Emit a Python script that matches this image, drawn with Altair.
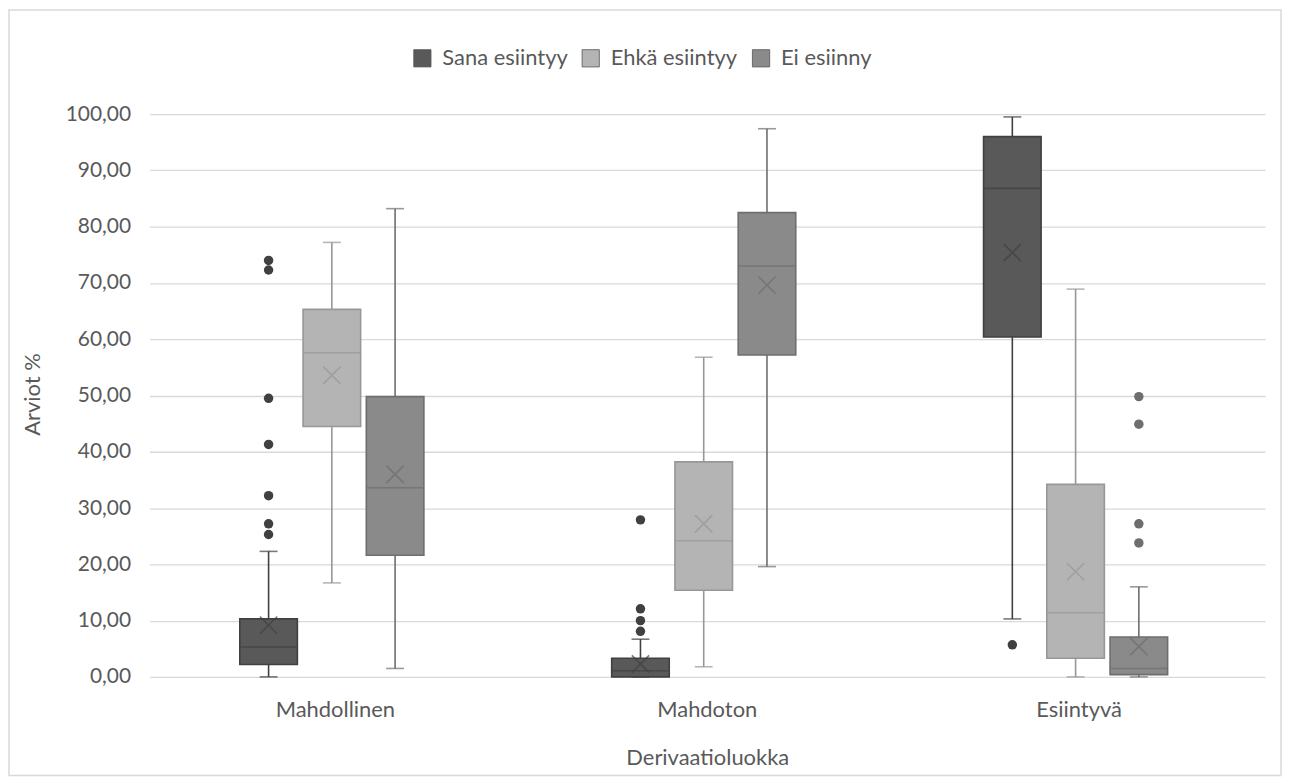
import altair as alt
import pandas as pd

categories = ["Mahdollinen", "Mahdoton", "Esiintyvä"]
series = ["Sana esiintyy", "Ehkä esiintyy", "Ei esiinny"]

# values per series, in the order of categories
whisker_low = {"Sana esiintyy": [0.0, 0.0, 10.3], "Ehkä esiintyy": [16.7, 1.8, 0.0], "Ei esiinny": [1.5, 19.6, 0.0]}
q1 = {"Sana esiintyy": [2.2, 0.0, 60.4], "Ehkä esiintyy": [44.5, 15.4, 3.3], "Ei esiinny": [21.6, 57.2, 0.4]}
median = {"Sana esiintyy": [5.3, 1.1, 86.8], "Ehkä esiintyy": [57.6, 24.2, 11.4], "Ei esiinny": [33.6, 73.0, 1.5]}
q3 = {"Sana esiintyy": [10.3, 3.3, 96.0], "Ehkä esiintyy": [65.3, 38.2, 34.2], "Ei esiinny": [49.8, 82.5, 7.1]}
whisker_high = {"Sana esiintyy": [22.3, 6.7, 99.5], "Ehkä esiintyy": [77.2, 56.8, 68.9], "Ei esiinny": [83.2, 97.4, 16.0]}
mean = {"Sana esiintyy": [9.2, 2.3, 75.4], "Ehkä esiintyy": [53.6, 27.2, 18.7], "Ei esiinny": [36.0, 69.6, 5.4]}

outlier_category = ["Mahdollinen"] * 7 + ["Mahdoton"] * 4 + ["Esiintyvä"] * 5
outlier_series = ["Sana esiintyy"] * 12 + ["Ei esiinny"] * 4
outlier_value = [74.0, 72.3, 49.5, 41.3, 32.2, 27.2, 25.3,
                 27.9, 12.1, 10.0, 8.1,
                 5.7,
                 49.8, 44.9, 27.2, 23.8]

fill_colors = ["#595959", "#b4b4b4", "#8a8a8a"]
line_colors = ["#404040", "#979797", "#6e6e6e"]
text_color = "#595959"
font = "Lato"

rows = []
for s in series:
    for i, c in enumerate(categories):
        rows.append({"cat": c, "ser": s, "serfill": s, "lo": whisker_low[s][i], "q1": q1[s][i],
                     "med": median[s][i], "q3": q3[s][i], "hi": whisker_high[s][i],
                     "mean": mean[s][i]})
stats = pd.DataFrame(rows)
outl = pd.DataFrame({"cat": outlier_category, "ser": outlier_series, "val": outlier_value})

xenc = alt.X("cat:N", sort=categories, title="Derivaatioluokka",
             scale=alt.Scale(paddingInner=0.471, paddingOuter=0.2355),
             axis=alt.Axis(labelAngle=0, labelPadding=23, titleY=81, titleBaseline="middle",
                           titleFontSize=22, labelFontSize=22))
xoff = alt.XOffset("ser:N", sort=series,
                   scale=alt.Scale(domain=series, paddingInner=0.09, paddingOuter=0.1, align=0.22))
yscale = alt.Scale(domain=[0, 100], nice=False)
yaxis = alt.Axis(values=list(range(0, 101, 10)),
                 labelExpr="replace(format(datum.value, '.2f'), '.', ',')",
                 labelPadding=19, titleX=-117, titleY=281, titleAlign="center",
                 titleBaseline="middle", titleFontSize=22, labelFontSize=21,
                 grid=True, gridColor="#d9d9d9", gridWidth=1.3)
stroke_scale = alt.Scale(domain=series, range=line_colors)
fill_scale = alt.Scale(range=fill_colors)

base = alt.Chart(stats)

whisk = base.mark_rule(strokeWidth=1.6).encode(
    x=xenc, xOffset=xoff,
    y=alt.Y("lo:Q", scale=yscale, axis=yaxis, title="Arviot %"), y2="hi:Q",
    stroke=alt.Stroke("ser:N", scale=stroke_scale, legend=None))

cap_lo = base.mark_tick(size=18, thickness=1.6).encode(
    x=xenc, xOffset=xoff, y=alt.Y("lo:Q", scale=yscale),
    color=alt.Color("ser:N", scale=stroke_scale, legend=None))
cap_hi = base.mark_tick(size=18, thickness=1.6).encode(
    x=xenc, xOffset=xoff, y=alt.Y("hi:Q", scale=yscale),
    color=alt.Color("ser:N", scale=stroke_scale, legend=None))

box = base.mark_bar(strokeWidth=1.6).encode(
    x=xenc, xOffset=xoff,
    y=alt.Y("q1:Q", scale=yscale), y2="q3:Q",
    fill=alt.Fill("serfill:N", scale=fill_scale, sort=series,
                  legend=alt.Legend(title=None, orient="none", direction="horizontal",
                                    legendX=263, legendY=-67, symbolType="square",
                                    symbolSize=300, symbolStrokeColor="#555555",
                                    symbolStrokeWidth=0.8, labelFontSize=22,
                                    labelOffset=9, columnPadding=12, labelColor=text_color,
                                    labelFont=font)),
    stroke=alt.Stroke("ser:N", scale=stroke_scale, legend=None))

med = base.mark_tick(size=57, thickness=1.6).encode(
    x=xenc, xOffset=xoff, y=alt.Y("med:Q", scale=yscale),
    color=alt.Color("ser:N", scale=stroke_scale, legend=None))

meanm = base.mark_point(shape="M-1,-1L1,1M1,-1L-1,1", filled=False, size=300, strokeWidth=1.6).encode(
    x=xenc, xOffset=xoff, y=alt.Y("mean:Q", scale=yscale),
    stroke=alt.Stroke("ser:N", scale=stroke_scale, legend=None))

outp = alt.Chart(outl).mark_circle(size=90, opacity=1).encode(
    x=xenc, xOffset=xoff, y=alt.Y("val:Q", scale=yscale),
    color=alt.Color("ser:N", scale=stroke_scale, legend=None))

frame = alt.Chart(pd.DataFrame({"a": [0]})).mark_rect(
    fill=None, stroke="#d9d9d9", strokeWidth=1.5).encode(
    x=alt.value(-141), x2=alt.value(1136), y=alt.value(-104.5), y2=alt.value(664))

chart = alt.layer(frame, whisk, cap_lo, cap_hi, box, med, meanm, outp).properties(
    width=1120, height=565,
    autosize=alt.AutoSizeParams(type="none"),
    padding={"left": 142, "top": 105, "right": 18, "bottom": 100},
).configure_view(stroke=None).configure_axis(
    labelColor=text_color, titleColor=text_color, labelFont=font, titleFont=font,
    titleFontWeight="normal", domain=False, ticks=False
).configure_axisX(grid=False)

chart.save("out.html", embed_options={"renderer": "svg", "actions": False})
